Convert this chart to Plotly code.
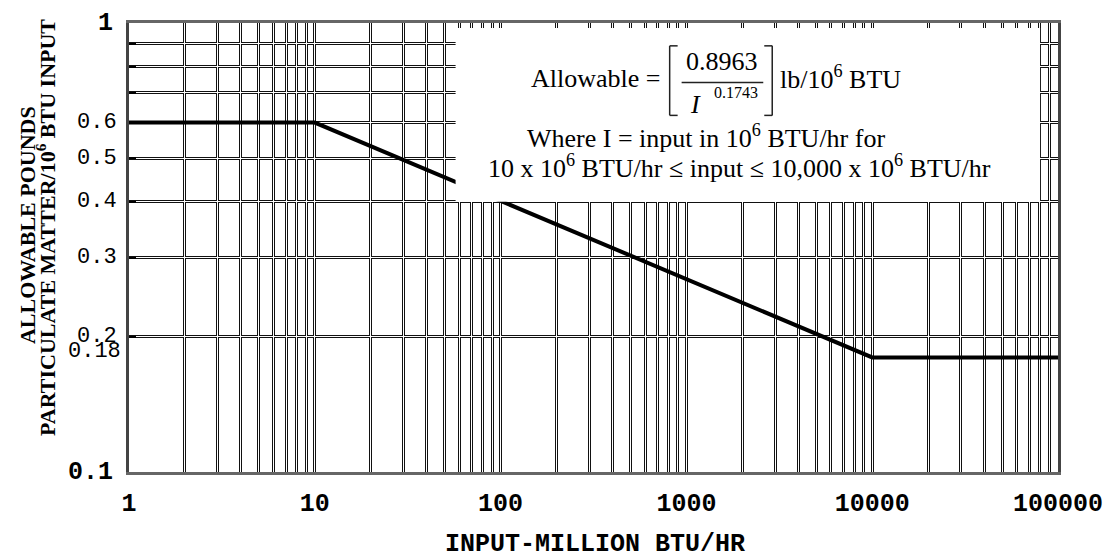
import math
import plotly.graph_objects as go

# ---- data ----
input_mmbtu = [1, 10, 10000, 100000]
allowable_lb = [0.6, 0.6, 0.18, 0.18]

x_major = [1, 10, 100, 1000, 10000, 100000]
x_major_labels = ["1", "10", "100", "1000", "10000", "100000"]
x_grid = [m * 10 ** d for d in range(5) for m in range(1, 10)] + [100000]
y_grid = [0.1, 0.2, 0.3, 0.4, 0.5, 0.6, 0.7, 0.8, 0.9, 1.0]
y_label_vals = [1.0, 0.6, 0.5, 0.4, 0.3, 0.2, 0.18, 0.1]
y_label_text = ["1", "0.6", "0.5", "0.4", "0.3", "0.2", "0.18", "0.1"]
y_label_bold = [True, False, False, False, False, False, False, True]

# page offset (default body margin) and plot-area edges in page pixels
OFF = 8
W, H = 1115 - OFF, 558 - OFF
L, R, T, B = 129, 1062, 20, 472


def px(x):
    return (x - L) / (R - L)


def py(y):
    return (B - y) / (B - T)


MONO = "Liberation Mono"
SERIF = "Liberation Serif"

fig = go.Figure()
fig.add_trace(go.Scatter(
    x=input_mmbtu, y=allowable_lb, mode="lines",
    line=dict(color="black", width=4),
    xaxis="x2", yaxis="y2", hoverinfo="skip", showlegend=False,
))

x_ticktext = [x_major_labels[x_major.index(v)] if v in x_major else "" for v in x_grid]

fig.update_layout(
    width=W, height=H, autosize=False,
    margin=dict(l=L - OFF, r=W - (R - OFF), t=T - OFF, b=H - (B - OFF)),
    paper_bgcolor="white", plot_bgcolor="white",
    showlegend=False,
    xaxis=dict(
        type="log", range=[0, 5],
        tickmode="array", tickvals=x_grid, ticktext=x_ticktext,
        tickfont=dict(family=MONO, size=25, color="black", weight="bold"),
        ticks="", ticklabelstandoff=6, ticklabeloverflow="allow",
        showgrid=True, gridcolor="#111", gridwidth=3,
        showline=True, linecolor="#666", linewidth=3, mirror=True,
        zeroline=False,
    ),
    yaxis=dict(
        type="log", range=[-1, 0],
        tickmode="array", tickvals=y_grid, showticklabels=False,
        ticks="inside", ticklen=7, tickcolor="black", tickwidth=2,
        showgrid=True, gridcolor="#111", gridwidth=3,
        showline=True, linecolor="#444", linewidth=3, mirror=True,
        zeroline=False,
    ),
    xaxis2=dict(
        type="log", range=[0, 5], overlaying="x",
        tickmode="array", tickvals=x_grid, showticklabels=False, ticks="",
        showgrid=True, gridcolor="white", gridwidth=1,
        showline=False, zeroline=False,
    ),
    yaxis2=dict(
        type="log", range=[-1, 0], overlaying="y",
        tickmode="array", tickvals=y_grid[1:-1], showticklabels=False, ticks="",
        showgrid=True, gridcolor="white", gridwidth=1,
        showline=False, zeroline=False,
    ),
)

# y tick labels (annotation positions on a log axis are given in log10 units)
for v, t, b in zip(y_label_vals, y_label_text, y_label_bold):
    fig.add_annotation(
        x=px(123 if t == "0.18" else (115 if b else 119)), xref="paper", xanchor="right",
        y=math.log10(v), yref="y", yanchor="middle", yshift=6 if t == "0.18" else 0,
        text=t, showarrow=False,
        font=dict(family=MONO, size=25 if b else 22, color="black",
                  weight="bold" if b else "normal"),
    )

# axis titles
fig.add_annotation(x=px(597), y=py(545), xref="paper", yref="paper",
                   xanchor="center", yanchor="middle",
                   text="INPUT-MILLION BTU/HR", showarrow=False,
                   font=dict(family=MONO, size=25, color="black", weight="bold"))
fig.add_annotation(x=px(27), y=py(223), xref="paper", yref="paper",
                   xanchor="center", yanchor="middle",
                   text="ALLOWABLE POUNDS", textangle=-90, showarrow=False,
                   font=dict(family=SERIF, size=22, color="black", weight="bold"))
fig.add_annotation(x=px(45), y=py(226), xref="paper", yref="paper",
                   xanchor="center", yanchor="middle",
                   text="PARTICULATE MATTER/10<sup>6</sup> BTU INPUT", textangle=-90,
                   showarrow=False,
                   font=dict(family=SERIF, size=22, color="black", weight="bold"))

# white formula box
fig.add_shape(type="rect", xref="paper", yref="paper",
              x0=px(457), x1=px(1044), y0=py(200), y1=py(25),
              fillcolor="white", line=dict(width=0), layer="above")

# brackets and fraction bar
blk = dict(color="#222", width=1.5)
for seg in [((680, 43), (672, 43)), ((672, 43), (672, 113)), ((672, 113), (680, 113)),
            ((767, 43), (775, 43)), ((775, 43), (775, 113)), ((775, 113), (767, 113)),
            ((684, 80), (766, 80))]:
    (xa, ya), (xb, yb) = seg
    fig.add_shape(type="line", xref="paper", yref="paper",
                  x0=px(xa), y0=py(ya), x1=px(xb), y1=py(yb),
                  line=blk, layer="above")

FS = 26


def txt(x, y, s, size=FS, anchor="left", italic=False):
    fig.add_annotation(x=px(x), y=py(y), xref="paper", yref="paper",
                       xanchor=anchor, yanchor="middle", text=s, showarrow=False,
                       font=dict(family=SERIF, size=size, color="black",
                                 style="italic" if italic else "normal"))


txt(531, 76, "Allowable =")
txt(725, 59, "0.8963", anchor="center")
txt(698, 102, "I", italic=True, anchor="center")
txt(739, 90, "0.1743", size=16, anchor="center")
txt(781, 75, "lb/10<sup>6</sup> BTU")
txt(527, 134, "Where I = input in 10<sup>6</sup> BTU/hr for")
txt(488, 164, "10 x 10<sup>6</sup> BTU/hr \u2264 input \u2264 10,000 x 10<sup>6</sup> BTU/hr")

fig.write_html("out.html")
